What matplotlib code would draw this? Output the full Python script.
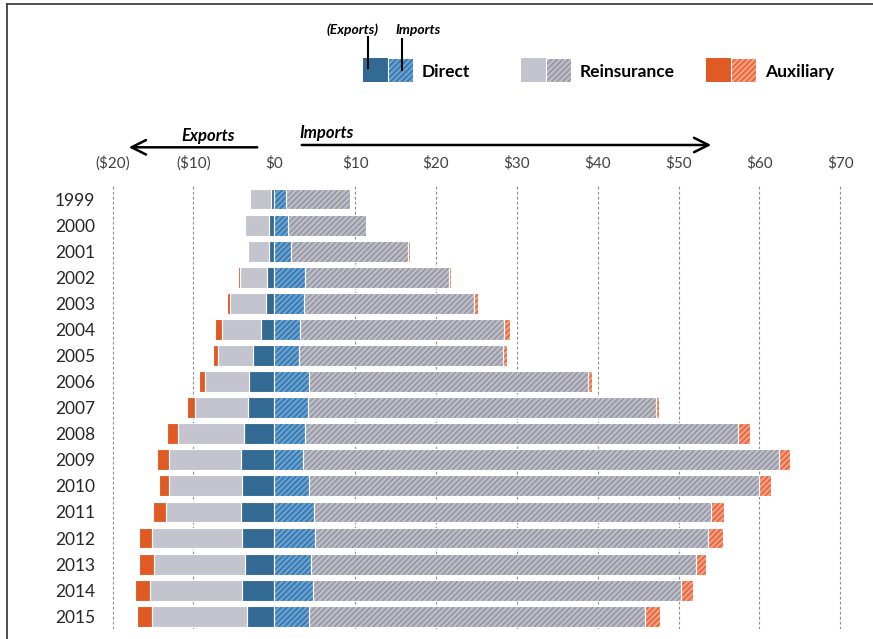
import numpy as np
import matplotlib
matplotlib.use('Agg')
from matplotlib import pyplot as plt
from matplotlib.patches import Rectangle

FONT = ['Lato', 'DejaVu Sans']

years = [str(y) for y in range(1999, 2016)]

# exports, $ billions (drawn to the left of zero)
exp_direct = [0.41, 0.69, 0.62, 0.87, 1.06, 1.68, 2.63, 3.13, 3.25, 3.75, 4.08, 3.96, 4.08, 3.96, 3.59, 3.96, 3.34]
exp_reins = [2.60, 2.93, 2.64, 3.34, 4.45, 4.79, 4.33, 5.40, 6.60, 8.16, 8.91, 9.03, 9.35, 11.17, 11.29, 11.41, 11.79]
exp_aux = [0.00, 0.00, 0.12, 0.25, 0.37, 0.87, 0.58, 0.82, 0.95, 1.40, 1.52, 1.31, 1.57, 1.57, 1.81, 1.90, 1.90]

# imports
imp_direct = [1.45, 1.69, 2.03, 3.76, 3.64, 3.14, 3.02, 4.33, 4.21, 3.76, 3.51, 4.33, 4.91, 5.03, 4.58, 4.79, 4.25]
imp_reins = [7.95, 9.61, 14.47, 17.81, 21.02, 25.23, 25.23, 34.51, 42.96, 53.63, 58.95, 55.66, 49.14, 48.57, 47.54, 45.51, 41.64]
imp_aux = [0.00, 0.00, 0.25, 0.32, 0.57, 0.75, 0.49, 0.49, 0.41, 1.41, 1.29, 1.44, 1.53, 1.86, 1.28, 1.52, 1.85]

xticks = [-20, -10, 0, 10, 20, 30, 40, 50, 60, 70]
xticklabels = ['($20)', '($10)', '$0', '$10', '$20', '$30', '$40', '$50', '$60', '$70']

BLUE = '#336a93'
BLUE_H = ('#64a0d2', '#2f6b9e')
GRAY = '#c4c4cf'
GRAY_H = ('#bcbcc7', '#8e8e9c')
ORANGE = '#e05a24'
ORANGE_H = ('#f59a7c', '#e2582a')

plt.rcParams['hatch.linewidth'] = 0.9


def layer(ax, y, width, left, face, hatch=None, h=0.8):
	width = np.asarray(width, dtype=float)
	left = np.asarray(left, dtype=float)
	keep = width > 0
	y = np.asarray(y)[keep]
	width = width[keep]
	left = left[keep]
	if hatch is None:
		ax.barh(y, width, left=left, height=h, color=face, linewidth=0, zorder=3)
	else:
		ax.barh(y, width, left=left, height=h, color=hatch[0], linewidth=0, zorder=3)
		ax.barh(y, width, left=left, height=h, facecolor='none', edgecolor=hatch[1],
				hatch='//////', linewidth=0, zorder=4)
	ax.barh(y, width, left=left, height=h, fill=False, edgecolor='white', linewidth=0.8, zorder=5)


def main():
	fig = plt.figure(figsize=(8.73, 6.39), dpi=100)
	ax = fig.add_axes([100.5 / 873, 9.7 / 639, 755.9 / 873, 444.6 / 639])

	y = np.arange(len(years))
	ed = np.array(exp_direct)
	er = np.array(exp_reins)
	ea = np.array(exp_aux)
	layer(ax, y, ed, -ed, BLUE)
	layer(ax, y, er, -(ed + er), GRAY)
	layer(ax, y, ea, -(ed + er + ea), ORANGE)

	idr = np.array(imp_direct)
	ir = np.array(imp_reins)
	ia = np.array(imp_aux)
	layer(ax, y, idr, np.zeros(len(y)), None, BLUE_H)
	layer(ax, y, ir, idr, None, GRAY_H)
	layer(ax, y, ia, idr + ir, None, ORANGE_H)

	for xv in xticks:
		if xv != 0:
			ax.axvline(xv, color='#8c8c8c', linewidth=0.8, linestyle=(0, (2.5, 2)), zorder=1)

	ax.set_xlim(-21.5, 72)
	ax.set_ylim(16.5, -0.55)
	ax.xaxis.tick_top()
	ax.set_xticks(xticks)
	ax.set_xticklabels(xticklabels, fontsize=11, color='#404040', family=FONT)
	ax.set_yticks(y)
	ax.set_yticklabels(years, fontsize=12.5, color='#262626', family=FONT)
	ax.tick_params(axis='x', length=0, pad=10)
	ax.tick_params(axis='y', length=0, pad=4)
	for s in ax.spines.values():
		s.set_visible(False)

	# overlay in pixel coordinates for legend, arrows and frame
	ov = fig.add_axes([0, 0, 1, 1], zorder=10)
	ov.set_xlim(0, 873)
	ov.set_ylim(639, 0)
	ov.axis('off')
	ov.patch.set_visible(False)

	ov.plot([7, 7], [4, 639], color='#404040', linewidth=1.3)
	ov.plot([7, 873], [4, 4], color='#404040', linewidth=1.3)

	ov.annotate('', xy=(126, 147.3), xytext=(260, 147.3),
				arrowprops=dict(arrowstyle='->', lw=1.8, color='black', mutation_scale=26))
	ov.annotate('', xy=(714, 145), xytext=(299, 145),
				arrowprops=dict(arrowstyle='->', lw=1.8, color='black', mutation_scale=26))
	ov.text(208, 136, 'Exports', fontsize=12, fontweight='bold', style='italic',
			ha='center', va='center', family=FONT)
	ov.text(299, 133, 'Imports', fontsize=12, fontweight='bold', style='italic',
			ha='left', va='center', family=FONT)

	items = [('Direct', 363, BLUE, BLUE_H), ('Reinsurance', 521, GRAY, GRAY_H),
			 ('Auxiliary', 706, ORANGE, ORANGE_H)]
	for name, x0, solid, hat in items:
		ov.add_patch(Rectangle((x0, 58), 25, 24, facecolor=solid, linewidth=0))
		ov.add_patch(Rectangle((x0 + 25, 58), 25, 24, facecolor=hat[0], linewidth=0))
		ov.add_patch(Rectangle((x0 + 25, 58), 25, 24, facecolor='none', edgecolor=hat[1],
							   hatch='//////', linewidth=0))
		ov.add_patch(Rectangle((x0 + 25, 58), 25, 24, fill=False, edgecolor='white', linewidth=0.8))
		ov.text(x0 + 59, 72, name, fontsize=12.5, fontweight='bold', ha='left', va='center',
				family=FONT, color='black')

	ov.text(353, 29.5, '(Exports)', fontsize=10, fontweight='bold', style='italic',
			ha='center', va='center', family=FONT)
	ov.text(395, 30.5, 'Imports', fontsize=10, fontweight='bold', style='italic',
			ha='left', va='center', family=FONT)
	ov.plot([367.5, 367.5], [37, 68], color='black', linewidth=1.5)
	ov.plot([401.5, 401.5], [39, 70], color='black', linewidth=1.5)

	fig.savefig('out.png', dpi=100)


if __name__ == "__main__":
	main()
